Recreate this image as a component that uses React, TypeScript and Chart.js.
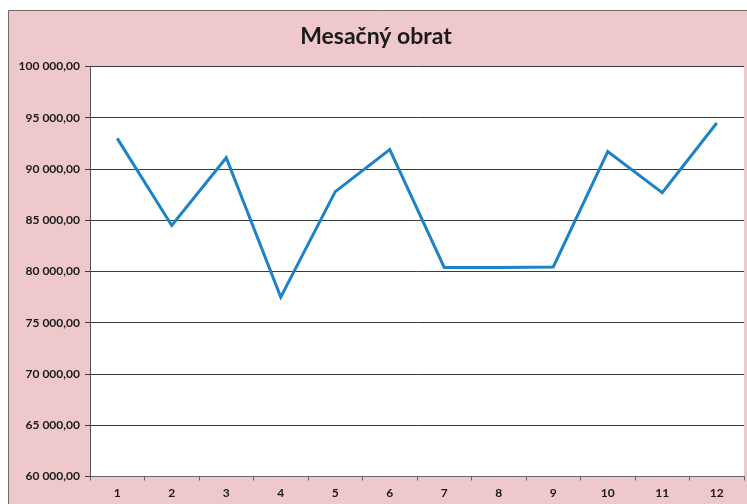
import React, { useEffect, useRef } from "react";
import { Chart, registerables } from "chart.js";

Chart.register(...registerables);

const TITLE = "Mesačný obrat";
const months = ["1", "2", "3", "4", "5", "6", "7", "8", "9", "10", "11", "12"];
const turnover = [93000, 84500, 91100, 77500, 87800, 91900, 80400, 80400, 80450, 91700, 87700, 94500];
const Y_MIN = 60000;
const Y_MAX = 100000;
const Y_STEP = 5000;

function fmt(v: number): string {
  const int = Math.round(v).toString().replace(/\B(?=(\d{3})+(?!\d))/g, " ");
  return int + ",00";
}

const bgPlugin = {
  id: "bgPlugin",
  beforeDraw(chart: any) {
    const { ctx, width, height, chartArea } = chart;
    ctx.save();
    ctx.fillStyle = "#efc8cc";
    ctx.fillRect(0, 0, width, height);
    ctx.fillStyle = "#ffffff";
    ctx.fillRect(chartArea.left, chartArea.top, chartArea.right - chartArea.left, chartArea.bottom - chartArea.top);
    ctx.strokeStyle = "#6b6b6b";
    ctx.lineWidth = 1;
    ctx.beginPath();
    ctx.moveTo(0.5, height);
    ctx.lineTo(0.5, 0.5);
    ctx.lineTo(width, 0.5);
    ctx.stroke();
    ctx.restore();
  },
};

export default function App() {
  const ref = useRef<HTMLCanvasElement | null>(null);
  useEffect(() => {
    if (!ref.current) return;
    const chart = new Chart(ref.current, {
      type: "line",
      data: {
        labels: months,
        datasets: [
          {
            data: turnover,
            borderColor: "#1d82c6",
            borderWidth: 3,
            pointRadius: 0,
            tension: 0,
            fill: false,
          },
        ],
      },
      options: {
        animation: false,
        responsive: false,
        maintainAspectRatio: false,
        layout: { padding: { left: 0, right: 3, top: 0, bottom: 0 } },
        plugins: {
          legend: { display: false },
          tooltip: { enabled: false },
          title: {
            display: true,
            text: TITLE,
            color: "#1a1a1a",
            font: { family: "Lato", size: 23, weight: "bold" },
            padding: { top: 13, bottom: 16 },
          },
        },
        scales: {
          x: {
            offset: true,
            grid: {
              offset: true,
              drawOnChartArea: false,
              drawTicks: true,
              tickLength: 4,
              color: "#666666",
            },
            border: { display: true, color: "#666666", width: 1 },
            ticks: {
              color: "#1a1a1a",
              font: { family: "Lato", size: 12, weight: "bold" },
              padding: 5,
              maxRotation: 0,
            },
            afterFit(scale: any) {
              scale.height = 27.5;
            },
          },
          y: {
            min: Y_MIN,
            max: Y_MAX,
            ticks: {
              stepSize: Y_STEP,
              color: "#1a1a1a",
              font: { family: "Lato", size: 12, weight: "bold" },
              padding: 5,
              callback: (v: any) => fmt(Number(v)),
            },
            grid: {
              color: "#3a3a3a",
              lineWidth: 1,
              tickLength: 5,
            },
            border: { display: true, color: "#555555", width: 1 },
            afterFit(scale: any) {
              scale.width = 82;
            },
          },
        },
      },
      plugins: [bgPlugin],
    });
    return () => chart.destroy();
  }, []);
  return (
    <div style={{ position: "fixed", left: 8, top: 10, width: 739, height: 494 }}>
      <canvas ref={ref} width={739} height={494} style={{ display: "block" }} />
    </div>
  );
}
